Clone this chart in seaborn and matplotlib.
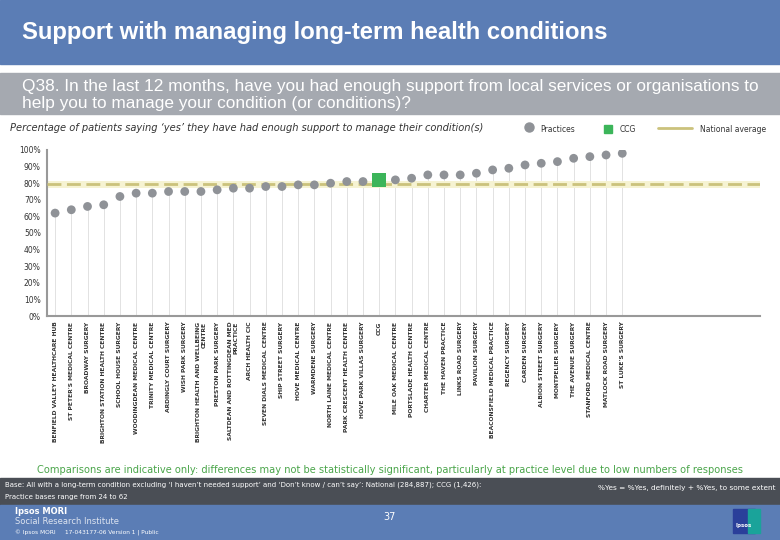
import numpy as np
import pandas as pd
import seaborn as sns
import matplotlib.pyplot as plt
from matplotlib.patches import Rectangle

# data
practices = [
    "BENFIELD VALLEY HEALTHCARE HUB", "ST PETER'S MEDICAL CENTRE", "BROADWAY SURGERY",
    "BRIGHTON STATION HEALTH CENTRE", "SCHOOL HOUSE SURGERY", "WOODINGDEAN MEDICAL CENTRE",
    "TRINITY MEDICAL CENTRE", "ARDINGLY COURT SURGERY", "WISH PARK SURGERY",
    "BRIGHTON HEALTH AND WELLBEING\nCENTRE", "PRESTON PARK SURGERY",
    "SALTDEAN AND ROTTINGDEAN MED\nPRACTICE", "ARCH HEALTH CIC", "SEVEN DIALS MEDICAL CENTRE",
    "SHIP STREET SURGERY", "HOVE MEDICAL CENTRE", "WARMDENE SURGERY",
    "NORTH LAINE MEDICAL CENTRE", "PARK CRESCENT HEALTH CENTRE", "HOVE PARK VILLAS SURGERY",
    "CCG",
    "MILE OAK MEDICAL CENTRE", "PORTSLADE HEALTH CENTRE", "CHARTER MEDICAL CENTRE",
    "THE HAVEN PRACTICE", "LINKS ROAD SURGERY", "PAVILION SURGERY",
    "BEACONSFIELD MEDICAL PRACTICE", "REGENCY SURGERY", "CARDEN SURGERY",
    "ALBION STREET SURGERY", "MONTPELIER SURGERY", "THE AVENUE SURGERY",
    "STANFORD MEDICAL CENTRE", "MATLOCK ROAD SURGERY", "ST LUKE'S SURGERY",
]
values = [62, 64, 66, 67, 72, 74, 74, 75, 75, 75, 76, 77, 77, 78, 78, 79, 79, 80, 81, 81,
          82,
          82, 83, 85, 85, 85, 86, 88, 89, 91, 92, 93, 95, 96, 97, 98]
national_avg = 79.3
n_slots = 44
yticks = [0, 10, 20, 30, 40, 50, 60, 70, 80, 90, 100]

BLUE = "#5b7db5"
GREY_BAR = "#a5a9b0"
DARK_BAR = "#4a4e55"
PT_GREY = "#8f9297"
CCG_GREEN = "#3cb55a"
NAT = "#cbc27c"
TXT_GREEN = "#4aa54a"

df = pd.DataFrame({"name": practices, "value": values})
df["pos"] = np.arange(len(df))
df["kind"] = np.where(df["name"] == "CCG", "CCG", "Practices")

sns.set_style("white")
plt.rcParams["font.family"] = ["DejaVu Sans"]

fig = plt.figure(figsize=(7.8, 5.4), dpi=100)
W, H = 780, 540

def box(x0, y0, x1, y1, color):
    fig.patches.append(Rectangle((x0 / W, 1 - y1 / H), (x1 - x0) / W, (y1 - y0) / H,
                                 transform=fig.transFigure, color=color, zorder=0))

def ftext(x, y, s, **kw):
    fig.text(x / W, 1 - y / H, s, **kw)

# header / footer bands
box(0, 0, 780, 64, BLUE)
box(0, 73, 780, 114, GREY_BAR)
box(0, 478, 780, 505, DARK_BAR)
box(0, 505, 780, 540, BLUE)

ftext(22, 32, "Support with managing long-term health conditions", color="white",
      fontsize=17.2, fontweight="bold", family="Liberation Sans", va="center")
ftext(22, 95, "Q38. In the last 12 months, have you had enough support from local services or organisations to\n"
      "help you to manage your condition (or conditions)?", color="white", fontsize=12.4,
      family="Liberation Sans", va="center", linespacing=1.2)
ftext(10, 128, "Percentage of patients saying \u2018yes\u2019 they have had enough support to manage their condition(s)",
      fontsize=7.1, style="italic", color="#333333", va="center")

# legend drawn by hand
fig.add_artist(plt.Line2D([529 / W], [1 - 127 / H], marker="o", color=PT_GREY, markersize=6.5,
                          transform=fig.transFigure))
ftext(540, 129, "Practices", fontsize=5.5, color="#333333", va="center")
fig.add_artist(plt.Line2D([608 / W], [1 - 129 / H], marker="s", color=CCG_GREEN, markersize=5.5,
                          transform=fig.transFigure))
ftext(620, 129, "CCG", fontsize=5.5, color="#333333", va="center")
fig.add_artist(plt.Line2D([658 / W, 692 / W], [1 - 128 / H] * 2, color=NAT, lw=2,
                          transform=fig.transFigure))
ftext(700, 129, "National average", fontsize=5.5, color="#333333", va="center")

# chart
ax = fig.add_axes([47 / W, 1 - 316 / H, (760 - 47) / W, (316 - 150) / H])
ax.vlines(df["pos"], 0, df["value"], color="#e2e2e2", lw=0.7, zorder=1)
ax.axhline(national_avg, color="#f6f3d2", lw=5, zorder=2)
ax.axhline(national_avg, color=NAT, lw=2, ls=(0, (5, 2)), zorder=3)
sns.scatterplot(data=df[df["kind"] == "Practices"], x="pos", y="value", ax=ax,
                color=PT_GREY, s=40, edgecolor="none", zorder=4, legend=False)
sns.scatterplot(data=df[df["kind"] == "CCG"], x="pos", y="value", ax=ax, marker="s",
                color=CCG_GREEN, s=110, edgecolor="none", zorder=5, legend=False)

ax.set_xlim(-0.5, n_slots - 0.5)
ax.set_ylim(0, 100)
ax.set_yticks(yticks)
ax.set_yticklabels([f"{t}%" for t in yticks], fontsize=5.5, color="#333333")
ax.set_xticks(df["pos"])
ax.set_xticklabels(df["name"], rotation=90, fontsize=4.3, color="#333333",
                   fontweight="bold", multialignment="right")
ax.set_xticks(np.arange(n_slots + 1) - 0.5, minor=True)
ax.tick_params(axis="x", which="major", length=0, pad=4)
ax.tick_params(axis="x", which="minor", length=2.5, color="#999999", width=1)
ax.tick_params(axis="y", length=2.5, color="#999999", width=1, pad=2)
ax.set_xlabel("")
ax.set_ylabel("")
for s in ["top", "right"]:
    ax.spines[s].set_visible(False)
for s in ["left", "bottom"]:
    ax.spines[s].set_color("#999999")
    ax.spines[s].set_linewidth(1.5)

# footer text
ftext(390, 470, "Comparisons are indicative only: differences may not be statistically significant, "
      "particularly at practice level due to low numbers of responses",
      fontsize=7.1, color=TXT_GREEN, ha="center", va="center")
ftext(5, 485, "Base: All with a long-term condition excluding \u2018I haven\u2019t needed support\u2019 and "
      "\u2018Don\u2019t know / can\u2019t say\u2019: National (284,887); CCG (1,426):",
      fontsize=5.0, color="white", va="center")
ftext(5, 497, "Practice bases range from 24 to 62", fontsize=5.0, color="white", va="center")
ftext(775, 488, "%Yes = %Yes, definitely + %Yes, to some extent", fontsize=5.3, color="white",
      ha="right", va="center")
ftext(15, 511, "Ipsos MORI", fontsize=6, color="white", va="center", fontweight="bold")
ftext(15, 522, "Social Research Institute", fontsize=6, color="#dde4f0", va="center")
ftext(15, 533, "\u00a9 Ipsos MORI     17-043177-06 Version 1 | Public", fontsize=4.2,
      color="white", va="center")
ftext(390, 517, "37", fontsize=7, color="white", ha="center", va="center")
box(733, 509, 755, 533, "#2a3f9a")
box(748, 509, 760, 533, "#1aa39a")
ftext(744, 525, "Ipsos", fontsize=4, color="white", ha="center", va="center", fontweight="bold")

fig.savefig("out.png", dpi=100)
